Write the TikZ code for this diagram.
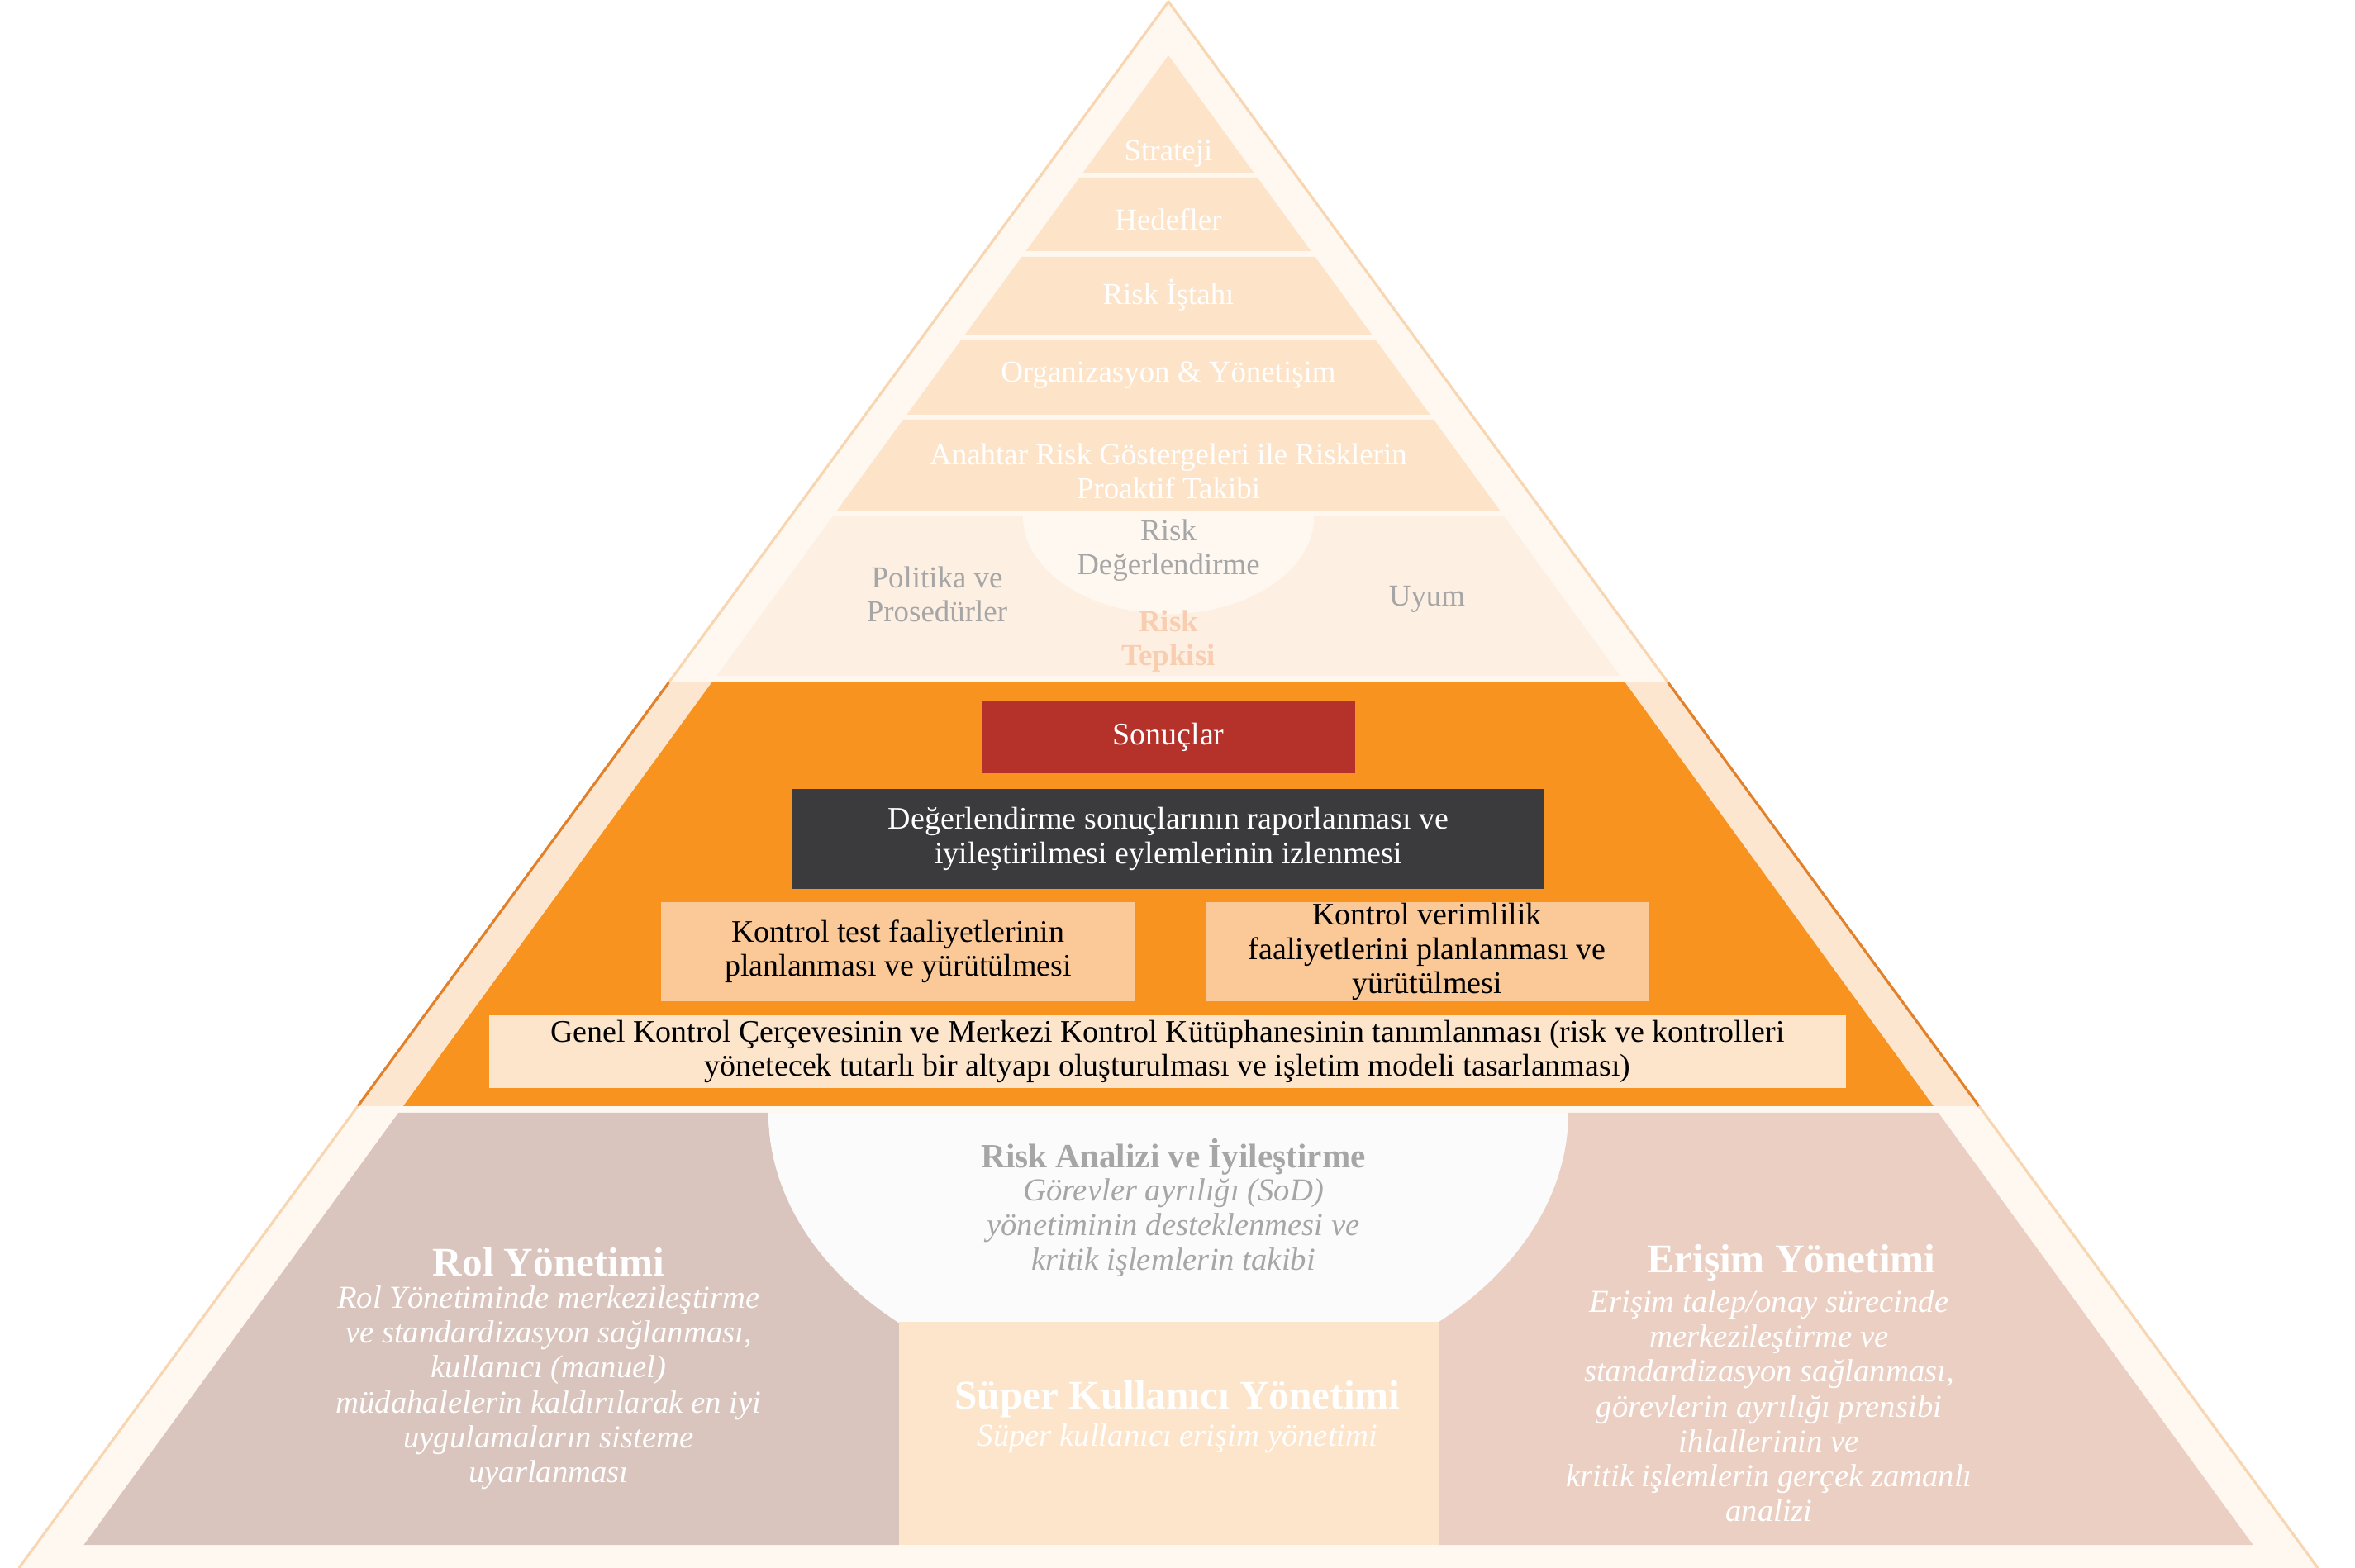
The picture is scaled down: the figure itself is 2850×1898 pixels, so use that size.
\documentclass[tikz,border=0pt]{standalone}
\usepackage{fontspec}
\setmainfont{Liberation Serif}
\usetikzlibrary{positioning}
\definecolor{krem}{HTML}{FEF8F1}
\definecolor{seftali}{HTML}{FDE4C9}
\definecolor{riskzemin}{HTML}{FDF0E3}
\definecolor{turuncu}{HTML}{F7931E}
\definecolor{koyuturuncu}{HTML}{E3812A}
\definecolor{cizgi}{HTML}{F8D6B2}
\definecolor{orta}{HTML}{FDE6CF}
\definecolor{kirmizi}{HTML}{B5322A}
\definecolor{koyugri}{HTML}{3B3B3D}
\definecolor{acikturuncu}{HTML}{FBC997}
\definecolor{acikseftali}{HTML}{FDE5CC}
\definecolor{rol}{HTML}{D9C5BD}
\definecolor{erisim}{HTML}{EBCFC2}
\definecolor{beyazimsi}{HTML}{FBFBFB}
\definecolor{gri}{HTML}{A6A6A6}
\definecolor{tepki}{HTML}{F8CDB0}
\newcommand{\metin}{\fontsize{10.5}{11.7}\selectfont}
\newcommand{\egik}{\fontsize{11}{12}\selectfont\itshape}
\newcommand{\baslik}{\fontsize{14}{16}\selectfont\bfseries}
\tikzset{
metinstil/.style={inner sep=0pt, align=center, font=\metin}, % every small text
egikstil/.style={inner sep=0pt, align=center, font=\egik}, % italic texts of the bottom part
baslikstil/.style={inner sep=0pt, align=center, font=\baslik}, % bold titles of the bottom part
kutu/.style={metinstil, font=\fontsize{10.8}{11.7}\selectfont, minimum height=1.2cm}, % boxes in the orange part
kenar/.style={line width=0.9pt, line join=round}, % outer edges of the pyramid
}
\begin{document}
\begin{tikzpicture}[x=0.01cm, y=-0.01cm,
  declare function={isol(\h)=1414-0.728*(\h-67); isag(\h)=1414+0.728*(\h-67);
                    dsol(\h)=1414-0.7337*(\h-2); dsag(\h)=1414+0.7337*(\h-2);}]
\useasboundingbox (0,0) rectangle (2850,1898);
\fill[white] (0,0) rectangle (2850,1898);

% outer pyramid, three parts
\fill[krem] (1414,2) -- ({dsag(826)},826) -- ({dsol(826)},826) -- cycle;
\fill[orta] ({dsol(826)},826) -- ({dsag(826)},826) -- ({dsag(1339)},1339) -- ({dsol(1339)},1339) -- cycle;
\fill[krem] ({dsol(1339)},1339) -- ({dsag(1339)},1339) -- ({dsag(1898)},1898) -- ({dsol(1898)},1898) -- cycle;
\draw[kenar, cizgi] ({dsol(826)},826) -- (1414,2) -- ({dsag(826)},826);
\draw[kenar, koyuturuncu] ({dsol(826)},826) -- ({dsol(1339)},1339) ({dsag(826)},826) -- ({dsag(1339)},1339);
\draw[kenar, cizgi] ({dsol(1339)},1339) -- ({dsol(1898)},1898) ({dsag(1339)},1339) -- ({dsag(1898)},1898);

% top bands
\foreach \u/\a in {67/209,215/304,311/406,412/502,508/618}
  \fill[seftali] ({isol(\u)},\u) -- ({isag(\u)},\u) -- ({isag(\a)},\a) -- ({isol(\a)},\a) -- cycle;
\fill[riskzemin] ({isol(625)},625) -- ({isag(625)},625) -- ({isag(818)},818) -- ({isol(818)},818) -- cycle;
\fill[krem] (1238,625) arc[start angle=180, end angle=360, x radius=1.76cm, y radius=1.18cm] -- cycle;

\node[metinstil, text=white] (strateji) at (1414,186) {Strateji};
\node[metinstil, text=white] (hedef) at (1414,266) {Hedefler};
\node[metinstil, text=white] (istah) at (1414,357) {Risk İştahı};
\node[metinstil, text=white] (orgy) at (1414,454) {Organizasyon \& Yönetişim};
\node[metinstil, text=white] (kri) at (1414,570) {Anahtar Risk Göstergeleri ile Risklerin\\Proaktif Takibi};
\node[metinstil, text=gri] (degerlendirme) at (1414,666) {Risk\\Değerlendirme};
\node[metinstil, text=gri] (politika) at (1134,719) {Politika ve\\Prosedürler};
\node[metinstil, text=gri] (uyum) at (1727,725) {Uyum};
\node[metinstil, text=tepki, font=\metin\bfseries] (tepkisi) at (1414,776) {Risk\\Tepkisi};

% orange part
\fill[turuncu] ({isol(826)},826) -- ({isag(826)},826) -- ({isag(1339)},1339) -- ({isol(1339)},1339) -- cycle;
\node[kutu, fill=kirmizi, text=white, minimum width=4.52cm, minimum height=0.88cm] (sonuc) at (1414,892) {\raisebox{-0.6ex}{Sonuçlar}};
\node[kutu, fill=koyugri, text=white, minimum width=9.09cm, below=0.18cm of sonuc] (rapor) {Değerlendirme sonuçlarının raporlanması ve\\iyileştirilmesi eylemlerinin  izlenmesi};
\node[kutu, fill=acikturuncu, minimum width=5.74cm] (test) at (1087,1152) {Kontrol test faaliyetlerinin\\planlanması ve yürütülmesi};
\node[kutu, fill=acikturuncu, minimum width=5.36cm] (verim) at (1727,1152) {Kontrol verimlilik\\faaliyetlerini planlanması ve\\yürütülmesi};
\node[kutu, fill=acikseftali, minimum width=16.42cm, minimum height=0.88cm] (genel) at (1413,1273) {Genel Kontrol Çerçevesinin ve Merkezi Kontrol Kütüphanesinin tanımlanması (risk ve kontrolleri\\yönetecek tutarlı bir altyapı oluşturulması ve işletim modeli tasarlanması)};

% bottom part
\fill[rol] ({isol(1347)},1347) -- (930,1347) arc[start angle=180, end angle=227.65, x radius=4.84cm, y radius=3.44cm] -- (1088,1870) -- ({isol(1870)},1870) -- cycle;
\fill[beyazimsi] (930,1347) arc[start angle=180, end angle=360, x radius=4.84cm, y radius=3.44cm] -- cycle;
\fill[erisim] (1898,1347) -- ({isag(1347)},1347) -- ({isag(1870)},1870) -- (1740,1870) -- (1740,1601) arc[start angle=312.35, end angle=360, x radius=4.84cm, y radius=3.44cm] -- cycle;
\fill[acikseftali] (1088,1600) rectangle (1741,1870);

\node[baslikstil, text=white] (rolb) at (664,1528) {Rol Yönetimi};
\node[egikstil, text=white, below=0.1cm of rolb] (rolm) {Rol Yönetiminde merkezileştirme\\ve standardizasyon sağlanması,\\kullanıcı (manuel)\\müdahalelerin kaldırılarak en iyi\\uygulamaların sisteme\\uyarlanması};
\node[baslikstil, text=gri, font=\fontsize{11.7}{14}\selectfont\bfseries] (analizb) at (1420,1400) {Risk Analizi ve İyileştirme};
\node[egikstil, text=gri, below=0.03cm of analizb] (analizm) {Görevler ayrılığı (SoD)\\yönetiminin desteklenmesi ve\\kritik işlemlerin takibi};
\node[baslikstil, text=white] (superb) at (1425,1694) {Süper Kullanıcı Yönetimi};
\node[egikstil, text=white, below=0.06cm of superb] (superm) {Süper kullanıcı erişim yönetimi};
\node[baslikstil, text=white] (erisimb) at (2168,1528) {Erişim Yönetimi};
\node[egikstil, text=white, below=0.1cm of erisimb, xshift=-0.27cm] (erisimm) {Erişim talep/onay sürecinde\\merkezileştirme ve\\standardizasyon sağlanması,\\görevlerin ayrılığı prensibi\\ihlallerinin ve\\kritik işlemlerin gerçek zamanlı\\analizi};
\end{tikzpicture}
\end{document}
